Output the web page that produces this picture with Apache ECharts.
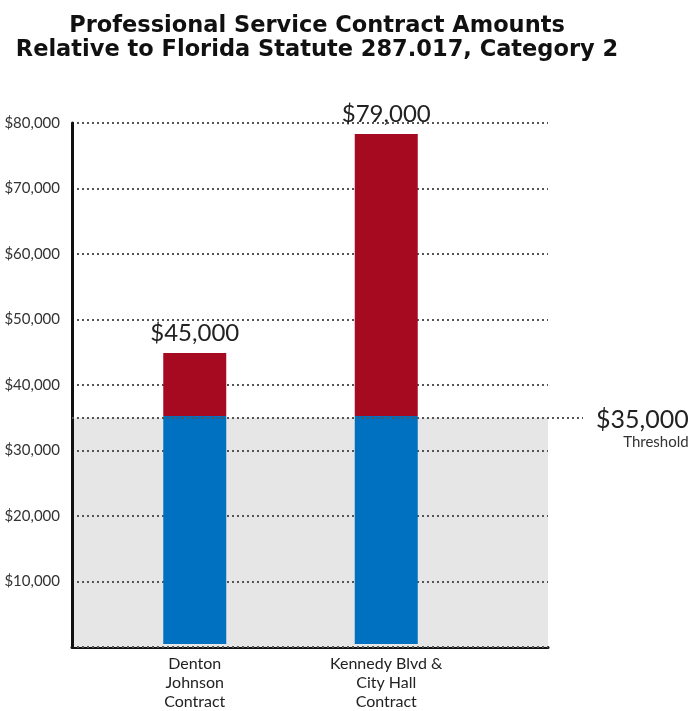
<!DOCTYPE html>
<html>
<head>
<meta charset="utf-8">
<script src="https://cdn.jsdelivr.net/npm/echarts@6/dist/echarts.min.js"></script>
<style>
  html, body { margin: 0; padding: 0; background: #fff; }
  #chart { width: 694px; height: 711px; }
</style>
</head>
<body>
<div id="chart"></div>
<script>
// chart data
const categories = ['Denton\nJohnson\nContract', 'Kennedy Blvd &\nCity Hall\nContract'];
const threshold = 35000;
const belowThreshold = [35000, 35000];
const aboveThreshold = [9700, 43300];
const totalLabels = ['$45,000', '$79,000'];
const yMax = 80000;
const yStep = 10000;

const blue = '#0070c0';
const red = '#a60a20';
const font = 'Lato';

const myChart = echarts.init(document.getElementById('chart'), null, { renderer: 'canvas' });

const hiddenY = (gridIndex) => ({
  type: 'value', gridIndex: gridIndex, min: 0, max: yMax, interval: yStep, show: false
});

myChart.setOption({
  animation: false,
  title: {
    text: 'Professional Service Contract Amounts\nRelative to Florida Statute 287.017, Category 2',
    left: 312,
    top: 9,
    textAlign: 'center',
    textStyle: { fontFamily: 'DejaVu Sans', fontWeight: 'bold', fontSize: 22.5, lineHeight: 24, color: '#111' }
  },
  grid: [
    // frame, gridlines, shaded area
    { left: 72, right: 146, top: 123, bottom: 64 },
    // bars
    { left: 99, right: 212, top: 123, bottom: 64 },
    // threshold line, runs past the frame
    { left: 72, right: 111, top: 123, bottom: 64 }
  ],
  xAxis: [
    {
      type: 'category', gridIndex: 0, data: ['a'],
      axisLine: { lineStyle: { color: '#111', width: 3 } },
      axisTick: { show: false }, axisLabel: { show: false }
    },
    {
      type: 'category', gridIndex: 1, data: categories,
      axisLine: { show: false }, axisTick: { show: false },
      axisLabel: { fontFamily: font, fontSize: 16, lineHeight: 19, color: '#222', margin: 10 }
    },
    { type: 'category', gridIndex: 2, data: ['a'], show: false }
  ],
  yAxis: [
    {
      type: 'value', gridIndex: 0, min: 0, max: yMax, interval: yStep, z: 1.5,
      axisLine: { show: true, lineStyle: { color: '#111', width: 3 } },
      axisTick: { show: false },
      axisLabel: {
        fontFamily: font, fontSize: 15, color: '#333', margin: 12,
        formatter: v => v === 0 ? '' : '$' + v.toLocaleString('en-US')
      },
      splitLine: { lineStyle: { color: '#555', width: 2, type: [2, 3] } }
    },
    hiddenY(1),
    hiddenY(2)
  ],
  series: [
    {
      type: 'line', xAxisIndex: 0, yAxisIndex: 0, data: [],
      markArea: {
        silent: true,
        itemStyle: { color: '#e6e6e6' },
        data: [[{ yAxis: 0 }, { yAxis: threshold }]]
      }
    },
    {
      name: 'Below threshold', type: 'bar', xAxisIndex: 1, yAxisIndex: 1,
      stack: 'total', barWidth: 63, data: belowThreshold,
      itemStyle: { color: blue }
    },
    {
      name: 'Above threshold', type: 'bar', xAxisIndex: 1, yAxisIndex: 1,
      stack: 'total', barWidth: 63, data: aboveThreshold,
      itemStyle: { color: red },
      label: {
        show: true, position: 'top', distance: 8,
        fontFamily: font, fontSize: 24, color: '#222',
        formatter: p => totalLabels[p.dataIndex]
      }
    },
    {
      type: 'line', xAxisIndex: 2, yAxisIndex: 2, data: [],
      markLine: {
        silent: true, symbol: 'none',
        lineStyle: { color: '#555', width: 2, type: [2, 3] },
        label: {
          position: 'end', distance: 13, offset: [0, 11],
          formatter: '{a|$35,000}\n{b|Threshold}',
          rich: {
            a: { fontFamily: font, fontSize: 25, color: '#222', align: 'right', lineHeight: 26 },
            b: { fontFamily: font, fontSize: 15, color: '#333', align: 'right', lineHeight: 18 }
          }
        },
        data: [{ yAxis: threshold }]
      }
    }
  ]
});

window.addEventListener('resize', function() {
  myChart.resize();
});
</script>
</body>
</html>
